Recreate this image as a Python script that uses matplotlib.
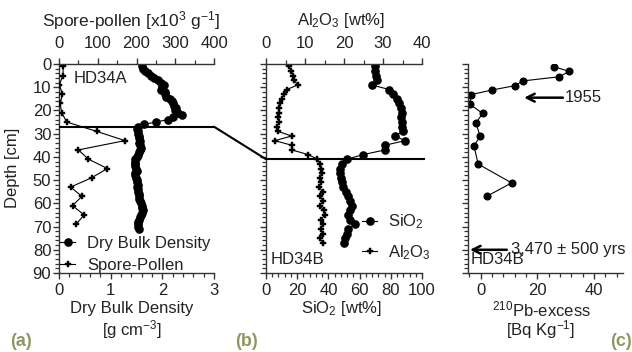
import matplotlib
matplotlib.use("Agg")
import matplotlib.pyplot as plt
from matplotlib.ticker import MultipleLocator
from matplotlib.patches import ConnectionPatch

plt.rcParams["font.family"] = ["Liberation Sans", "DejaVu Sans"]
plt.rcParams["mathtext.fontset"] = "custom"
plt.rcParams["mathtext.rm"] = "Liberation Sans"
plt.rcParams["mathtext.it"] = "Liberation Sans:italic"
plt.rcParams["mathtext.default"] = "regular"

# ---- core HD34A: dry bulk density (g cm-3) ----
dbd_depth = [1, 2, 3, 4, 5, 6, 7, 8, 9, 10, 11, 12, 13, 14, 15, 16, 17, 18, 19, 20,
             21, 22, 23, 24, 25, 26, 27, 28, 29, 30, 31, 32, 33, 34, 35, 36, 37, 38,
             39, 40, 41, 42, 43, 44, 45, 46, 47, 48, 49, 50, 51, 52, 53, 54, 55, 56,
             57, 58, 59, 60, 61, 62, 63, 64, 65, 66, 67, 68, 69, 70, 71]
dbd_value = [1.60, 1.62, 1.66, 1.72, 1.78, 1.84, 1.92, 1.97, 2.03, 2.00, 1.98, 2.05,
             2.06, 2.08, 2.15, 2.18, 2.20, 2.22, 2.26, 2.24, 2.30, 2.39, 2.20, 2.10,
             1.87, 1.65, 1.52,
             1.50, 1.52, 1.53, 1.55, 1.54, 1.56, 1.55, 1.57, 1.58, 1.56, 1.55, 1.52,
             1.50, 1.48, 1.47, 1.48, 1.47, 1.49, 1.50, 1.48, 1.47, 1.49, 1.50, 1.51,
             1.52, 1.50, 1.53, 1.52, 1.54, 1.55, 1.54, 1.56, 1.58, 1.60, 1.61, 1.62,
             1.60, 1.58, 1.56, 1.55, 1.53, 1.52, 1.53, 1.54]

# ---- core HD34A: spore-pollen concentration (x10^3 g-1) ----
sp_depth = [1, 5, 9, 13, 17, 21, 25, 29, 33, 37, 41, 45, 49, 53, 57, 61, 65, 69]
sp_value = [11, 10, 1, 9, 3, 7, 20, 97, 170, 50, 76, 125, 84, 30, 59, 35, 65, 44]

# ---- core HD34B: major oxides (wt%) ----
ox_depth = [1, 3, 5, 7, 9, 11, 13, 15, 17, 19, 21, 23, 25, 27, 29, 31, 33, 35, 37, 39,
            41, 43, 45, 47, 49, 51, 53, 55, 57, 59, 61, 63, 65, 67, 69, 71, 73, 75, 77]
al2o3 = [6.0, 6.5, 7.0, 7.2, 8.2, 5.3, 4.6, 4.0, 3.6, 3.4, 3.3, 3.2, 3.3, 2.8, 3.0,
         6.6, 2.3, 6.6, 6.6, 10.8, 13.2,
         13.8, 14.0, 14.3, 13.8, 14.2, 13.6, 14.5, 13.9, 14.6, 13.8, 14.9, 15.0,
         14.2, 14.6, 14.0, 14.5, 13.8, 14.6]
sio2 = [69.9, 69.9, 70.5, 71.0, 67.7, 79.0, 81.6, 83.8, 85.5, 86.5, 87.0, 86.5, 87.0,
        87.0, 87.5, 82.7, 89.1, 76.3, 76.3, 62.4, 51.7,
        48.5, 47.4, 47.4, 48.0, 48.5, 49.6, 51.0, 52.8, 53.8, 55.0, 54.0, 52.8,
        53.8, 57.1, 52.8, 51.7, 50.6, 50.0]

# ---- core HD34B: 210Pb excess (Bq kg-1) ----
pb_depth = [1.2, 3.2, 5.5, 7.3, 9.3, 11.2, 13.2, 17.4, 21.3, 25.3, 31.2, 35.2, 43.1,
            51.2, 57.0]
pb_value = [25.9, 31.3, 27.6, 14.8, 12.2, 4.0, -3.5, -3.8, 0.7, -1.7, -0.2, -2.4,
            -0.9, 10.9, 2.1]

# unit boundaries and dates
boundary_a = 27
boundary_b = 41
date_1955 = 14.5
date_old = 80
panel_labels = ["(a)", "(b)", "(c)"]

W, H = 632, 352
fig = plt.figure(figsize=(W / 100, H / 100), dpi=100)

AX_C = "#333333"
TXT = "#222222"
FS = 12
LAB = "#8c9a62"


def px(x, y):
    return x / W, 1 - y / H


def style_axis(ax, left=True, bottom=True, top=False):
    for s in ["left", "right", "top", "bottom"]:
        ax.spines[s].set_visible(False)
        ax.spines[s].set_color(AX_C)
        ax.spines[s].set_linewidth(1.0)
    if left:
        ax.spines["left"].set_visible(True)
    if bottom:
        ax.spines["bottom"].set_visible(True)
    if top:
        ax.spines["top"].set_visible(True)
    ax.tick_params(which="major", length=4.5, width=1.0, color=AX_C,
                   labelsize=FS, labelcolor=TXT, pad=4.5)
    ax.tick_params(which="minor", length=2.6, width=0.9, color=AX_C)


def depth_axis(ax, labels):
    ax.set_ylim(90, 0)
    ax.yaxis.set_major_locator(MultipleLocator(10))
    ax.yaxis.set_minor_locator(MultipleLocator(2))
    ax.tick_params(axis="y", which="both", direction="out", left=True, right=False,
                   labelleft=labels)
    ax.tick_params(axis="y", which="major", pad=1.0)


def bottom_axis(ax, major, minor):
    ax.xaxis.set_major_locator(MultipleLocator(major))
    ax.xaxis.set_minor_locator(MultipleLocator(minor))
    ax.tick_params(axis="x", which="both", direction="out", top=False)
    ax.tick_params(axis="x", which="major", pad=3.0)


ax_h = 209 / H
ax_bot = 1 - 273 / H

# ---------------- panel (a) ----------------
ax_a = fig.add_axes([59 / W, ax_bot, 155 / W, ax_h])
style_axis(ax_a, left=True, bottom=True)
depth_axis(ax_a, True)
ax_a.set_xlim(0, 3)
bottom_axis(ax_a, 1, 0.2)
h_dbd, = ax_a.plot(dbd_value, dbd_depth, color="black", lw=0.8, marker="o",
                   ms=5.2, mfc="black", mec="black")

ax_a2 = ax_a.twiny()
style_axis(ax_a2, left=False, bottom=False, top=True)
ax_a2.set_xlim(0, 400)
ax_a2.set_ylim(90, 0)
ax_a2.xaxis.set_major_locator(MultipleLocator(100))
ax_a2.xaxis.set_minor_locator(MultipleLocator(50))
ax_a2.tick_params(axis="x", which="both", direction="out")
h_sp, = ax_a2.plot(sp_value, sp_depth, color="black", lw=0.8, marker="P",
                   ms=5.0, mfc="black", mec="black", mew=0.3)
ax_a2.axhline(boundary_a, color="black", lw=1.5, zorder=5)

ax_a2.text(0.095, 0.93, "HD34A", transform=ax_a2.transAxes, fontsize=FS,
           color=TXT, ha="left", va="center")
ax_a2.legend([h_dbd, h_sp], ["Dry Bulk Density", "Spore-Pollen"], loc="lower left",
             bbox_to_anchor=(-0.012, -0.015), frameon=False, fontsize=FS,
             handlelength=0.9, handletextpad=0.7, labelspacing=0.4, borderpad=0.2,
             borderaxespad=0, labelcolor=TXT)

fig.text(*px(13, 168), "Depth [cm]", rotation=90, ha="center", va="center",
         fontsize=FS, color=TXT)
fig.text(*px(131, 21), "Spore-pollen [x10$^3$ g$^{-1}$]", ha="center", va="center",
         fontsize=FS + 0.5, color=TXT)
fig.text(*px(132, 309), "Dry Bulk Density", ha="center", va="center",
         fontsize=FS, color=TXT)
fig.text(*px(132, 330), "[g cm$^{-3}$]", ha="center", va="center",
         fontsize=FS, color=TXT)

# ---------------- panel (b) ----------------
ax_b = fig.add_axes([266 / W, ax_bot, 156 / W, ax_h])
style_axis(ax_b, left=True, bottom=True)
depth_axis(ax_b, False)
ax_b.set_xlim(0, 100)
bottom_axis(ax_b, 20, 4)
h_si, = ax_b.plot(sio2, ox_depth, color="black", lw=0.8, marker="o", ms=5.2,
                  mfc="black", mec="black")

ax_b2 = ax_b.twiny()
style_axis(ax_b2, left=False, bottom=False, top=True)
ax_b2.set_xlim(0, 40)
ax_b2.set_ylim(90, 0)
ax_b2.xaxis.set_major_locator(MultipleLocator(10))
ax_b2.xaxis.set_minor_locator(MultipleLocator(5))
ax_b2.tick_params(axis="x", which="both", direction="out")
h_al, = ax_b2.plot(al2o3, ox_depth, color="black", lw=0.8, marker="P", ms=5.0,
                   mfc="black", mec="black", mew=0.3)
ax_b2.axhline(boundary_b, color="black", lw=1.5, zorder=5, xmax=1.01, clip_on=False)

ax_b2.text(0.03, 0.03, "HD34B", transform=ax_b2.transAxes, fontsize=FS,
           color=TXT, ha="left", va="bottom")
ax_b2.legend([h_si, h_al], ["SiO$_2$", "Al$_2$O$_3$"], loc="center left",
             bbox_to_anchor=(0.597, 0.172), frameon=False, fontsize=FS,
             handlelength=0.9, handletextpad=0.63, labelspacing=0.7, borderpad=0.2,
             borderaxespad=0, labelcolor=TXT)

fig.text(*px(341, 21), "Al$_2$O$_3$ [wt%]", ha="center", va="center",
         fontsize=FS, color=TXT)
fig.text(*px(341, 309), "SiO$_2$ [wt%]", ha="center", va="center",
         fontsize=FS, color=TXT)

# diagonal correlation line between the two cores
con = ConnectionPatch(xyA=(1, boundary_a), coordsA=ax_a2.get_yaxis_transform(),
                      xyB=(0, boundary_b), coordsB=ax_b2.get_yaxis_transform(),
                      color="black", lw=1.5)
fig.add_artist(con)

# ---------------- panel (c) ----------------
ax_c = fig.add_axes([467.7 / W, ax_bot, 155 / W, ax_h])
style_axis(ax_c, left=True, bottom=True)
depth_axis(ax_c, False)
ax_c.set_xlim(-4.6, 50.1)
bottom_axis(ax_c, 20, 4)
ax_c.plot(pb_value, pb_depth, color="black", lw=0.8, marker="o", ms=4.8,
          mfc="black", mec="black")

ax_c.annotate("", xy=(15.3, date_1955), xytext=(29.0, date_1955),
              arrowprops=dict(arrowstyle="->", lw=1.8, color="black",
                              mutation_scale=14, shrinkA=0, shrinkB=0))
ax_c.text(29.6, date_1955, "1955", fontsize=FS, color=TXT, ha="left",
          va="center")
ax_c.annotate("", xy=(-3.8, date_old), xytext=(9.2, date_old),
              arrowprops=dict(arrowstyle="->", lw=1.8, color="black",
                              mutation_scale=14, shrinkA=0, shrinkB=0),
              annotation_clip=False)
ax_c.text(10.6, date_old, "3,470 \u00b1 500 yrs", fontsize=FS, color=TXT,
          ha="left", va="center", clip_on=False)
ax_c.text(0.02, 0.03, "HD34B", transform=ax_c.transAxes, fontsize=FS,
          color=TXT, ha="left", va="bottom")

fig.text(*px(541, 309), "$^{210}$Pb-excess", ha="center", va="center",
         fontsize=FS, color=TXT)
fig.text(*px(541, 330), "[Bq Kg$^{-1}$]", ha="center", va="center",
         fontsize=FS, color=TXT)

# panel letters
for lbl, xpos in zip(panel_labels, [21, 246, 621]):
    fig.text(*px(xpos, 342), lbl, ha="center", va="center", fontsize=13,
             fontweight="bold", color=LAB)

fig.savefig("out.png", dpi=100)
